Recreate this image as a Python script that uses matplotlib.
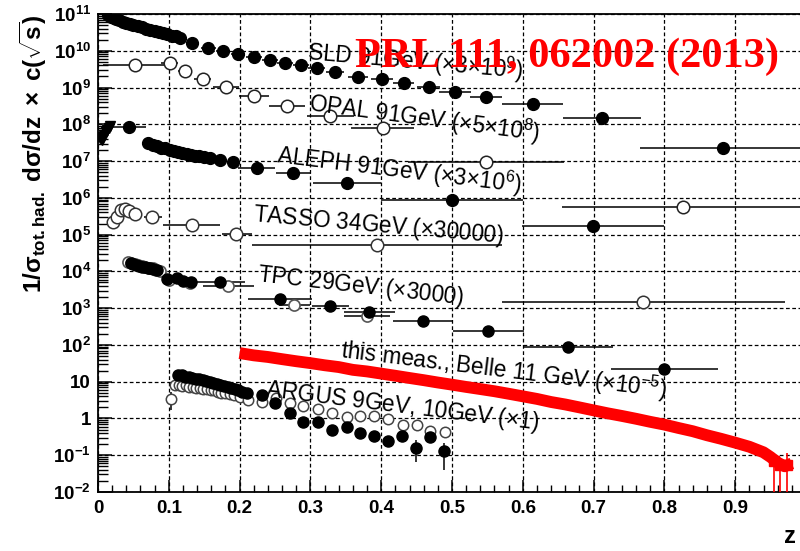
import matplotlib
matplotlib.use("Agg")
import matplotlib.pyplot as plt
import numpy as np

plt.rcParams['font.family'] = ['Liberation Sans', 'DejaVu Sans']
plt.rcParams['mathtext.fontset'] = 'custom'
plt.rcParams['mathtext.rm'] = 'Liberation Sans'
plt.rcParams['mathtext.it'] = 'Liberation Sans:italic'
plt.rcParams['mathtext.bf'] = 'Liberation Sans:bold'

# ---------------- data ----------------
# SLD 91 GeV (x3e9), filled circles
sld_x = [0.014, 0.018, 0.022, 0.026, 0.030, 0.035, 0.040, 0.045, 0.050, 0.056, 0.062, 0.068,
         0.074, 0.080, 0.086, 0.092, 0.098, 0.104, 0.110, 0.116, 0.133, 0.156, 0.177, 0.198,
         0.220, 0.243, 0.264, 0.287, 0.309, 0.335, 0.367, 0.401, 0.432, 0.467, 0.504, 0.548,
         0.614, 0.712, 0.883]
sld_y = [9.3e10, 8.5e10, 7.8e10, 7.2e10, 6.8e10, 6.2e10, 5.8e10, 5.4e10, 5.0e10, 4.6e10, 4.3e10, 4.0e10,
         3.7e10, 3.5e10, 3.2e10, 3.0e10, 2.8e10, 2.6e10, 2.45e10, 2.2e10, 1.6e10, 1.17e10, 1.0e10, 8.1e9,
         6.8e9, 5.6e9, 4.7e9, 4.1e9, 3.4e9, 2.6e9, 1.95e9, 1.7e9, 1.3e9, 1.02e9, 7.6e8, 5.5e8,
         3.5e8, 1.5e8, 2.3e7]
sld_xerr = [0.002] * 20 + [0.008, 0.010, 0.010, 0.010, 0.011, 0.011, 0.011, 0.011, 0.012, 0.013,
                           0.014, 0.015, 0.015, 0.016, 0.023, 0.023, 0.043, 0.055, 0.117]

# OPAL 91 GeV (x5e8), open circles
opal_x = [0.052, 0.101, 0.123, 0.148, 0.181, 0.220, 0.267, 0.328, 0.402, 0.548, 0.826]
opal_y = [4.1e9, 4.7e9, 2.8e9, 1.7e9, 1.02e9, 5.9e8, 3.2e8, 1.7e8, 7.9e7, 9.3e6, 5.6e5]
opal_xerr = [0.045, 0.012, 0.010, 0.012, 0.018, 0.021, 0.025, 0.033, 0.045, 0.110, 0.170]

# ALEPH 91 GeV (x3e6), filled symbols
aleph_lowx = [0.003, 0.005, 0.007, 0.009, 0.011, 0.013, 0.015, 0.017]
aleph_lowy = [4.2e7, 3.8e7, 4.6e7, 5.2e7, 6.0e7, 7.1e7, 7.9e7, 8.9e7]
aleph_x = [0.044, 0.071, 0.077, 0.083, 0.089, 0.095, 0.101, 0.107, 0.113, 0.119, 0.125, 0.131,
           0.137, 0.143, 0.150, 0.158, 0.172, 0.190, 0.224, 0.276, 0.352, 0.500, 0.699]
aleph_y = [8.5e7, 3.1e7, 2.8e7, 2.6e7, 2.3e7, 2.2e7, 2.0e7, 1.9e7, 1.8e7, 1.66e7, 1.55e7, 1.48e7,
           1.41e7, 1.35e7, 1.26e7, 1.2e7, 1.07e7, 9.3e6, 6.5e6, 4.8e6, 2.5e6, 8.7e5, 1.7e5]
aleph_xerr = [0.024] + [0.002] * 17 + [0.026, 0.025, 0.048, 0.100, 0.100]

# TASSO 34 GeV (x30000), open circles
tasso_x = [0.021, 0.027, 0.032, 0.038, 0.044, 0.052, 0.076, 0.133, 0.195, 0.394, 0.770]
tasso_y = [2.2e5, 3.0e5, 4.7e5, 5.0e5, 4.4e5, 3.6e5, 3.0e5, 1.8e5, 1.05e5, 5.2e4, 1.5e3]
tasso_xlo = [0.002, 0.002, 0.002, 0.002, 0.002, 0.003, 0.011, 0.041, 0.020, 0.176, 0.199]
tasso_xhi = [0.002, 0.002, 0.002, 0.002, 0.002, 0.003, 0.014, 0.039, 0.022, 0.177, 0.200]

# TPC 29 GeV (x3000), filled and open circles
tpcf_x = [0.046, 0.050, 0.054, 0.058, 0.062, 0.066, 0.070, 0.074, 0.078, 0.083, 0.097, 0.112,
          0.120, 0.131, 0.172, 0.257, 0.328, 0.383, 0.459, 0.551, 0.664, 0.800]
tpcf_y = [1.66e4, 1.58e4, 1.48e4, 1.41e4, 1.35e4, 1.29e4, 1.23e4, 1.2e4, 1.15e4, 1.1e4, 6.2e3, 6.6e3,
          5.5e3, 5.1e3, 5.2e3, 1.8e3, 1.15e3, 7.9e2, 4.5e2, 2.4e2, 87, 22]
tpcf_xerr = [0.002] * 14 + [0.035, 0.045, 0.026, 0.036, 0.042, 0.050, 0.063, 0.075]
tpco_x = [0.043, 0.047, 0.052, 0.057, 0.062, 0.067, 0.072, 0.077, 0.082, 0.087, 0.100, 0.130,
          0.184, 0.277, 0.380]
tpco_y = [1.78e4, 1.66e4, 1.55e4, 1.45e4, 1.38e4, 1.32e4, 1.26e4, 1.2e4, 1.12e4, 1.05e4, 5.8e3, 4.7e3,
          4.0e3, 1.23e3, 6.2e2]
tpco_xerr = [0.002] * 12 + [0.036, 0.022, 0.032]

# Belle 11 GeV (x1e-5) -- this measurement
belle_x = [0.20, 0.22, 0.24, 0.26, 0.28, 0.30, 0.32, 0.34, 0.36, 0.38, 0.40, 0.42, 0.44, 0.46,
           0.48, 0.50, 0.52, 0.54, 0.56, 0.58, 0.60, 0.62, 0.64, 0.66, 0.68, 0.70, 0.72, 0.74,
           0.76, 0.78, 0.80, 0.82, 0.84, 0.86, 0.88, 0.90, 0.92, 0.94, 0.95, 0.96, 0.97, 0.98]
belle_y = [60, 52, 47, 41, 36, 32, 28, 25, 21, 19, 16.6, 14.5, 12.6, 11.0,
           9.5, 8.3, 7.2, 6.3, 5.5, 4.7, 4.0, 3.4, 2.8, 2.4, 2.0, 1.66, 1.38, 1.17,
           0.98, 0.81, 0.68, 0.55, 0.45, 0.35, 0.28, 0.22, 0.17, 0.12, 0.089, 0.063, 0.050, 0.060]
belle_tail_x = [0.955, 0.963, 0.973]
belle_tail_y = [0.07, 0.055, 0.055]
belle_tail_lo = [0.065, 0.0545, 0.0545]
belle_tail_hi = [0.03, 0.02, 0.06]

# ARGUS 9 GeV, 10 GeV (x1), filled and open circles
argf_x = [0.113, 0.118, 0.123, 0.128, 0.133, 0.138, 0.143, 0.148, 0.153, 0.158, 0.163, 0.168,
          0.173, 0.178, 0.183, 0.188, 0.193, 0.198, 0.204, 0.210, 0.231, 0.250, 0.271, 0.290,
          0.311, 0.331, 0.352, 0.370, 0.390, 0.410, 0.429, 0.449, 0.469, 0.489]
argf_y = [15.1, 14.8, 13.8, 13.2, 12.6, 12.0, 11.5, 11.0, 10.5, 10.0, 9.3, 8.9,
          8.3, 7.8, 7.2, 6.8, 6.2, 5.8, 5.2, 4.9, 4.4, 2.6, 1.41, 0.79,
          0.78, 0.50, 0.60, 0.40, 0.33, 0.25, 0.33, 0.16, 0.32, 0.13]
argf_rel = [0.03] * 20 + [0.1, 0.1, 0.15, 0.2, 0.15, 0.35, 0.2, 0.2, 0.25, 0.3, 0.3, 0.6, 0.3, 0.7]
argo_x = [0.103, 0.109, 0.114, 0.119, 0.124, 0.129, 0.134, 0.139, 0.144, 0.149, 0.154, 0.159,
          0.164, 0.169, 0.174, 0.180, 0.186, 0.192, 0.200, 0.212, 0.231, 0.251, 0.271, 0.290,
          0.311, 0.331, 0.352, 0.370, 0.390, 0.410, 0.431, 0.450, 0.469, 0.490]
argo_y = [3.4, 8.1, 8.3, 7.6, 7.9, 7.2, 7.4, 6.8, 6.9, 6.3, 6.3, 5.9,
          5.8, 5.4, 4.8, 5.0, 4.6, 4.3, 3.8, 3.2, 2.8, 3.5, 2.6, 2.2,
          1.8, 1.41, 1.12, 1.2, 1.15, 0.95, 0.66, 0.66, 0.46, 0.43]
argo_rel = [0.5] + [0.03] * 33

# labels
yticks = [1e-2, 1e-1, 1, 10, 1e2, 1e3, 1e4, 1e5, 1e6, 1e7, 1e8, 1e9, 1e10, 1e11]
ytick_labels = [r'$\mathdefault{10^{-2}}$', r'$\mathdefault{10^{-1}}$', '1', '10'] + \
    [r'$\mathdefault{10^{%d}}$' % k for k in range(2, 12)]
xticks = [0, 0.1, 0.2, 0.3, 0.4, 0.5, 0.6, 0.7, 0.8, 0.9]
xtick_labels = ['0', '0.1', '0.2', '0.3', '0.4', '0.5', '0.6', '0.7', '0.8', '0.9']

series_labels = [
    ('SLD 91GeV ' + r'($\times$3$\times$10$^{9}$)', 307, 60, -5.0),
    ('OPAL 91GeV ' + r'($\times$5$\times$10$^{8}$)', 308, 111, -7.5),
    ('ALEPH 91GeV ' + r'($\times$3$\times$10$^{6}$)', 276, 163, -7.0),
    ('TASSO 34GeV ' + r'($\times$30000)', 253, 221, -5.0),
    ('TPC 29GeV ' + r'($\times$3000)', 257, 281, -6.5),
    ('this meas., Belle 11 GeV ' + r'($\times$10$^{-5}$)', 340, 358, -7.0),
    ('ARGUS 9GeV, 10GeV ' + r'($\times$1)', 265, 396, -7.0),
]

# ---------------- figure ----------------
W, H = 800, 551
fig = plt.figure(figsize=(W / 100, H / 100), dpi=100)
ax = fig.add_axes([98 / W, 1 - 492 / H, 708 / W, (492 - 14) / H])
ax.set_yscale('log')
ax.set_xlim(0, 1)
ax.set_ylim(1e-2, 1e11)

ax.grid(True, which='major', ls=(0, (3, 2)), color='black', lw=0.9, zorder=0)
ax.set_axisbelow(True)

ebk = dict(ecolor='black', elinewidth=1.1, capsize=0, ls='none', zorder=3)

ax.errorbar(sld_x, sld_y, xerr=sld_xerr, fmt='o', ms=8.5, mfc='black', mec='black', **ebk)
ax.errorbar(opal_x, opal_y, xerr=opal_xerr, fmt='o', ms=9, mfc='white', mec='#222222', mew=1.1, **ebk)
ax.errorbar(aleph_lowx, aleph_lowy, fmt='v', ms=7, mfc='black', mec='black', **ebk)
ax.errorbar(aleph_x, aleph_y, xerr=aleph_xerr, fmt='o', ms=8.5, mfc='black', mec='black', **ebk)
ax.errorbar(tasso_x, tasso_y, xerr=[tasso_xlo, tasso_xhi], fmt='o', ms=9, mfc='white', mec='#333333',
            mew=1.1, **ebk)
ax.errorbar(tpco_x, tpco_y, xerr=tpco_xerr, fmt='o', ms=8, mfc='white', mec='#555555', mew=1.2, **ebk)
ax.errorbar(tpcf_x, tpcf_y, xerr=tpcf_xerr, fmt='o', ms=8, mfc='black', mec='black', **ebk)

argo_y_arr = np.array(argo_y)
ax.errorbar(argo_x, argo_y, yerr=argo_y_arr * np.array(argo_rel), fmt='o', ms=7.5, mfc='white',
            mec='#444444', mew=1.1, **ebk)
argf_y_arr = np.array(argf_y)
ax.errorbar(argf_x, argf_y, yerr=argf_y_arr * np.array(argf_rel), fmt='o', ms=8, mfc='black',
            mec='black', **ebk)

# Belle band
ax.plot(belle_x, belle_y, color='#ff0000', lw=8.5, solid_capstyle='butt', zorder=4)
ax.errorbar(belle_tail_x, belle_tail_y, yerr=[belle_tail_lo, belle_tail_hi], fmt='s', ms=7,
            mfc='#ff0000', mec='#ff0000', ecolor='#ff0000', elinewidth=1.2, capsize=0, ls='none', zorder=4)

# ticks
ax.set_yticks(yticks)
ax.set_yticklabels(ytick_labels)
ax.set_xticks(xticks)
ax.set_xticklabels(xtick_labels)
ax.xaxis.set_minor_locator(matplotlib.ticker.MultipleLocator(0.02))
ax.yaxis.set_minor_locator(matplotlib.ticker.LogLocator(base=10, subs=np.arange(2, 10), numticks=50))
ax.yaxis.set_minor_formatter(matplotlib.ticker.NullFormatter())
ax.tick_params(axis='both', which='major', direction='in', width=1.1, labelsize=13.5, colors='black')
ax.tick_params(axis='y', which='major', length=10, pad=5)
ax.tick_params(axis='x', which='major', length=9, pad=6)
ax.tick_params(axis='y', which='minor', direction='in', length=7, width=1.0)
ax.tick_params(axis='x', which='minor', direction='in', length=5, width=1.0)
ax.tick_params(top=False, right=False, which='both')
for lab in ax.get_xticklabels() + ax.get_yticklabels():
    lab.set_fontweight('bold')
for s in ax.spines.values():
    s.set_linewidth(1.3)

# y label
fig.text(33 / W, 1 - 14 / H,
         r'$\mathbf{1/\sigma_{tot.had.}\ d\sigma/dz\ \times\ c(\sqrt{s})}$',
         rotation=90, ha='center', va='top', fontsize=17.5)
fig.text(784 / W, 1 - 548 / H, 'z', fontsize=17, fontweight='bold', ha='left', va='bottom')

for txt, px, py, rot in series_labels:
    fig.text(px / W, 1 - py / H, txt, fontsize=16.3, rotation=rot, rotation_mode='anchor',
             ha='left', va='baseline', color='black', zorder=6)

fig.text(355 / W, 1 - 67 / H, 'PRL 111, 062002 (2013)', family='Liberation Serif', fontweight='bold',
         color='#ff0000', fontsize=30.5, ha='left', va='baseline', zorder=7)

fig.savefig('out.png', dpi=100)
